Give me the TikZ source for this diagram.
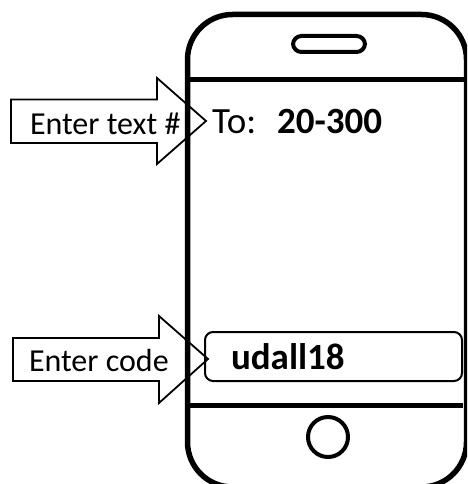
\documentclass[tikz,border=0pt]{standalone}
\usepackage{fontspec}
\setmainfont{Carlito}
\tikzset{
  bigoutline/.style={draw=black,line width=5.5pt},
  divider/.style={draw=black,line width=5pt},
  callout/.style={draw=black,line width=1.8pt,line join=miter},
  label/.style={anchor=base west,inner sep=0pt,outer sep=0pt,text=black},
}
\begin{document}
\begin{tikzpicture}[x=1pt,y=-1pt]
\useasboundingbox (0,0) rectangle (467,484);
\clip (0,0) rectangle (467,484);
% arrows
\draw[callout] (11,99.5) -- (157,99.5) -- (157,78) -- (206,121) -- (157,164) -- (157,143) -- (11,143) -- cycle;
\draw[callout] (13,338) -- (159,338) -- (159,316) -- (208,359) -- (159,403) -- (159,381) -- (13,381) -- cycle;
% phone
\draw[bigoutline,rounded corners=45pt] (187.5,14.5) rectangle (466.5,487);
\draw[divider] (187.5,80) -- (465,80);
\draw[divider] (187.5,405) -- (463,405);
\draw[draw=black,line width=4pt,rounded corners=8.5pt] (293,36) rectangle (365,52);
\draw[draw=black,line width=4pt] (328,437) circle (20);
\draw[draw=black,line width=2pt,rounded corners=8pt] (205,332) rectangle (462,381);
% text
\node[label,font=\fontsize{32}{34}\selectfont] (t1) at (30,134) {Enter text \#};
\node[label,font=\fontsize{37}{39}\selectfont] (t2) at (212,133) {To:};
\node[label,font=\fontsize{37}{39}\selectfont\bfseries] (t3) at (277,133) {20-300};
\node[label,font=\fontsize{32}{34}\selectfont] (t4) at (29,371.5) {Enter code};
\node[label,font=\fontsize{37}{39}\selectfont\bfseries] (t5) at (231,369) {udall18};
\end{tikzpicture}
\end{document}
